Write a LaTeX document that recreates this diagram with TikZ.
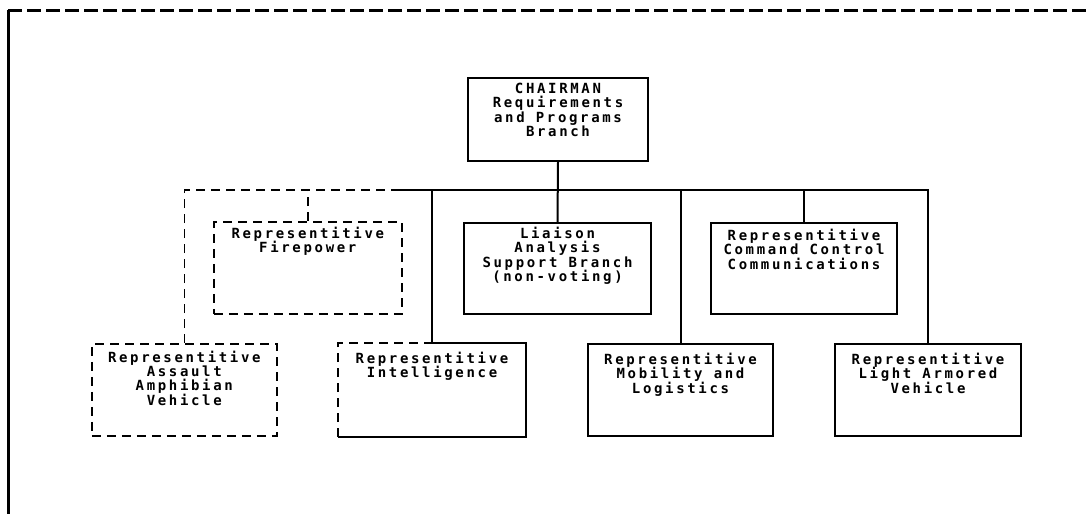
\documentclass[tikz,border=0pt]{standalone}
\usepackage{fontspec}
\newfontfamily\plotfont[LetterSpace=19]{DejaVu Sans Mono}
\newcommand\bt[4]{\parbox[c][#2pt][t]{#1pt}{\centering\vspace*{#3pt}#4\par}}
\begin{document}
\begin{tikzpicture}[x=1pt,y=-1pt,line width=2pt,
  box/.style={draw,rectangle,inner sep=0pt,anchor=north west,
    font=\plotfont\bfseries\fontsize{14}{14.4}\selectfont},
  dsh/.style={dash pattern=on 9pt off 6pt,line width=1.6pt},
  frameline/.style={line width=3pt}]
\useasboundingbox (0,0) rectangle (1090,514);
% frame
\coordinate (fTL) at (8,10);
\coordinate (fBL) at (8,514);
\coordinate (fTR) at (1090,10);
\draw[frameline] (fBL) -- (fTL);
\draw[frameline,dash pattern=on 14pt off 5pt] (fTL) -- (fTR);
% boxes
\node[box] (chair) at (467,77) {\bt{180}{83}{5}{CHAIRMAN\\Requirements\\and Programs\\Branch}};
\node[box,dsh] (fire) at (213,221) {\bt{188}{92}{5}{Representitive\\Firepower}};
\node[box] (liaison) at (463,222) {\bt{187}{91}{4}{Liaison\\Analysis\\Support Branch\\(non-voting)}};
\node[box] (ccc) at (710,222) {\bt{186}{91}{6}{Representitive\\Command Control\\Communications}};
\node[box,dsh] (assault) at (91,343) {\bt{185}{92}{7}{Representitive\\Assault\\Amphibian\\Vehicle}};
\node[box,draw=none] (intel) at (338,343) {\bt{186}{92}{8}{Representitive\\Intelligence}};
\node[box] (mob) at (587,343) {\bt{185}{92}{9}{Representitive\\Mobility and\\Logistics}};
\node[box] (lav) at (834,343) {\bt{186}{92}{9}{Representitive\\Light Armored\\Vehicle}};
% intelligence box edges
\draw[dsh] (intel.south west) -- (intel.north west) -- (intel.north);
\draw (intel.north) -- (intel.north east) -- (intel.south east) -- (intel.south west);
% connectors
\coordinate (busD) at (395,190);
\draw (chair.south) -- (liaison.north);
\draw[dsh] (assault.north) |- (busD);
\draw (busD) -| (lav.north);
\draw[dsh] (fire.north) -- (fire.north |- busD);
\draw (intel.north) -- (intel.north |- busD);
\draw (mob.north) -- (mob.north |- busD);
\draw (ccc.north) -- (ccc.north |- busD);
\end{tikzpicture}
\end{document}
